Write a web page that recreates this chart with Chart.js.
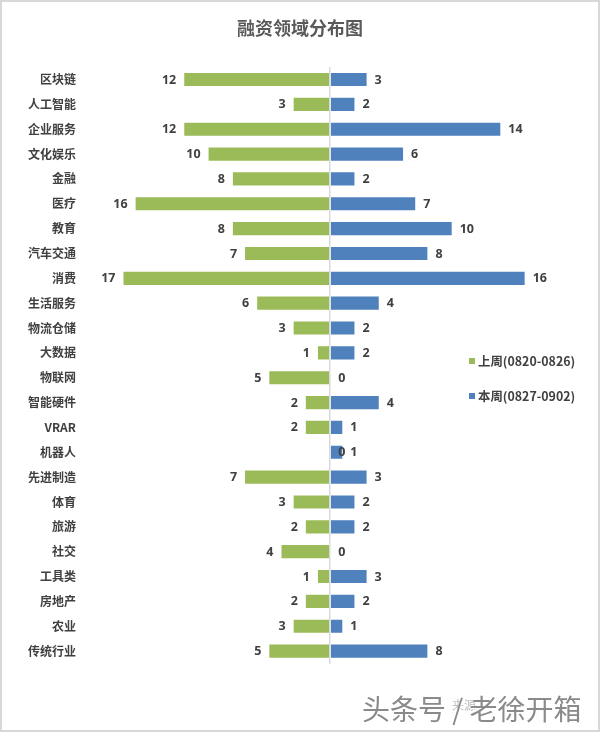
<!DOCTYPE html>
<html>
<head>
<meta charset="utf-8">
<style>
  html, body { margin: 0; padding: 0; background: #fff; }
  #box { width: 600px; height: 733px; }
</style>
<script src="https://cdn.jsdelivr.net/npm/chart.js@4"></script>
</head>
<body>
<div id="box"><canvas id="fundChart" width="600" height="733"></canvas></div>
<script>
const categories = ['区块链', '人工智能', '企业服务', '文化娱乐', '金融', '医疗', '教育', '汽车交通', '消费', '生活服务', '物流仓储', '大数据', '物联网', '智能硬件', 'VRAR', '机器人', '先进制造', '体育', '旅游', '社交', '工具类', '房地产', '农业', '传统行业'];
const lastWeek = [12, 3, 12, 10, 8, 16, 8, 7, 17, 6, 3, 1, 5, 2, 2, 0, 7, 3, 2, 4, 1, 2, 3, 5];
const thisWeek = [3, 2, 14, 6, 2, 7, 10, 8, 16, 4, 2, 2, 0, 4, 1, 1, 3, 2, 2, 0, 3, 2, 1, 8];
const seriesNames = ['上周(0820-0826)', '本周(0827-0902)'];

const GREEN = '#9BBB59';
const BLUE = '#4F81BD';
const FONT = '"Noto Sans CJK SC", "Noto Sans", sans-serif';
const NUM_FONT = '"Open Sans", "Noto Sans CJK SC", sans-serif';

// value labels next to the bars, a zero always goes on the right side
const valueLabels = {
    id: 'valueLabels',
    afterDatasetsDraw(chart) {
        const c = chart.ctx;
        const zero = chart.scales.x.getPixelForValue(0);
        c.save();
        c.font = 'bold 12.5px ' + NUM_FONT;
        c.fillStyle = '#404040';
        c.textBaseline = 'middle';
        chart.data.datasets.forEach((ds, i) => {
            chart.getDatasetMeta(i).data.forEach((bar, j) => {
                const v = Math.abs(ds.data[j]);
                if (v === 0) {
                    c.textAlign = 'left';
                    c.fillText(v, zero + 8, bar.y + 0.5);
                } else if (i === 0) {
                    c.textAlign = 'right';
                    c.fillText(v, bar.x - 8, bar.y + 0.5);
                } else {
                    c.textAlign = 'left';
                    c.fillText(v, bar.x + 8, bar.y + 0.5);
                }
            });
        });
        c.restore();
    }
};

// legend sits inside the plot, lower right, with a wide gap
const sideLegend = {
    id: 'sideLegend',
    afterDraw(chart) {
        const c = chart.ctx;
        c.save();
        c.font = 'bold 12.4px ' + FONT;
        c.textBaseline = 'middle';
        c.textAlign = 'left';
        [361, 396].forEach((y, i) => {
            c.fillStyle = chart.data.datasets[i].backgroundColor;
            c.fillRect(469, y - 3, 6, 6);
            c.fillStyle = '#404040';
            c.fillText(seriesNames[i], 478, y);
        });
        c.restore();
    }
};

// grey frame and the watermark of the source picture
const frameAndMark = {
    id: 'frameAndMark',
    beforeDraw(chart) {
        const c = chart.ctx;
        c.save();
        c.fillStyle = '#fff';
        c.fillRect(0, 0, 600, 733);
        c.strokeStyle = '#d8d8d8';
        c.lineWidth = 2;
        c.strokeRect(1, 1, 598, 730);
        c.restore();
    },
    afterDraw(chart) {
        const c = chart.ctx;
        c.save();
        c.textBaseline = 'middle';
        c.textAlign = 'left';
        c.font = '12px ' + FONT;
        c.fillStyle = '#bdbdbd';
        c.fillText('来源', 452, 705);
        c.font = '28px ' + FONT;
        c.fillStyle = '#fff';
        c.fillText('头条号 / 老徐开箱', 363, 710);
        c.fillStyle = '#8a8a8a';
        c.fillText('头条号 / 老徐开箱', 362, 709);
        c.restore();
    }
};

new Chart(document.getElementById('fundChart'), {
    type: 'bar',
    data: {
        labels: categories,
        datasets: [
            { label: seriesNames[0], data: lastWeek.map(v => -v), backgroundColor: GREEN },
            { label: seriesNames[1], data: thisWeek, backgroundColor: BLUE }
        ]
    },
    options: {
        indexAxis: 'y',
        responsive: false,
        animation: false,
        categoryPercentage: 1,
        barPercentage: 0.53,
        layout: { padding: { left: 0, right: 0, top: 0, bottom: 69.5 } },
        plugins: {
            legend: { display: false },
            tooltip: { enabled: false },
            title: {
                display: true,
                text: '融资领域分布图',
                color: '#595959',
                font: { family: FONT, size: 18, weight: 'bold' },
                padding: { top: 17, bottom: 28.5 }
            }
        },
        scales: {
            x: {
                stacked: true,
                min: -20,
                max: 22.2,
                ticks: { display: false, stepSize: 20 },
                border: { display: false },
                grid: {
                    z: 1,
                    drawTicks: false,
                    lineWidth: 1.5,
                    color: ctx => ctx.tick.value === 0 ? '#d9d9d9' : 'transparent'
                }
            },
            y: {
                stacked: true,
                afterFit(scale) { scale.width = 87; },
                border: { display: false },
                grid: { display: false },
                ticks: {
                    autoSkip: false,
                    padding: 3,
                    color: '#404040',
                    font: { family: FONT, size: 12, weight: 'bold' }
                }
            }
        }
    },
    plugins: [frameAndMark, valueLabels, sideLegend]
});
</script>
</body>
</html>
